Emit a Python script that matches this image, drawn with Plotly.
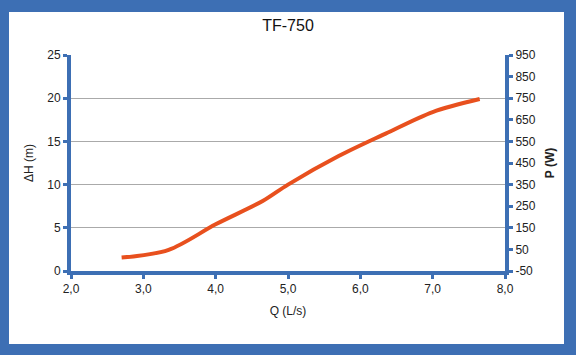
import plotly.graph_objects as go

Q = [2.7, 3.35, 4.0, 4.65, 5.0, 5.7, 6.35, 7.0, 7.65]
H = [1.55, 2.45, 5.4, 8.1, 10.0, 13.3, 15.9, 18.4, 19.9]
x_ticks = [2, 3, 4, 5, 6, 7, 8]
y_ticks = [0, 5, 10, 15, 20, 25]
y2_ticks = [-50, 50, 150, 250, 350, 450, 550, 650, 750, 850, 950]
y2_labels = [str(v) for v in y2_ticks]

BLUE = "#3D6FB4"
W, Hh = 576, 355
L, R, T, B = 71, 71, 55, 84
pw, ph = W - L - R, Hh - T - B

fig = go.Figure()
fig.add_trace(go.Scatter(x=Q, y=H, mode="lines", line=dict(color="#E8501E", width=4, shape="spline", smoothing=0.9),
                         showlegend=False, hoverinfo="skip"))
fig.add_trace(go.Scatter(x=[None], y=[None], yaxis="y2", showlegend=False))

fnt = dict(family="Liberation Sans, Arial, sans-serif", size=12, color="#222222")
axis_common = dict(showline=True, linecolor=BLUE, linewidth=4, ticks="outside", tickcolor=BLUE,
                   ticklen=4, tickwidth=3, tickfont=fnt, zeroline=False)

fig.update_layout(
    width=W, height=Hh, margin=dict(l=L, r=R, t=T, b=B),
    paper_bgcolor=BLUE, plot_bgcolor="white", separators=",.",
    title=dict(text="TF-750", x=0.5, xanchor="center", y=1 - 25 / Hh, yanchor="middle",
               font=dict(family="Liberation Sans, Arial, sans-serif", size=16, color="#111111")),
    xaxis=dict(range=[2, 8], tickvals=x_ticks, tickformat=".1f", showgrid=False,
               title=dict(text="Q (L/s)", font=fnt, standoff=12), **axis_common),
    yaxis=dict(range=[0, 25], tickvals=y_ticks, showgrid=True, gridcolor="#AAAAAA", gridwidth=1,
               title=dict(text="ΔH (m)", font=fnt, standoff=12), **axis_common),
    yaxis2=dict(range=[-50, 950], tickvals=y2_ticks, ticktext=y2_labels, overlaying="y", side="right", showgrid=False,
                title=dict(text="<b>P (W)</b>", font=fnt, standoff=12), **axis_common),
    shapes=[dict(type="rect", xref="paper", yref="paper", layer="below",
                 x0=(9 - L) / pw, x1=(564 - L) / pw, y0=(T + ph - 344) / ph, y1=(T + ph - 12) / ph,
                 fillcolor="white", line=dict(width=0))],
)
fig.write_html("out.html")
